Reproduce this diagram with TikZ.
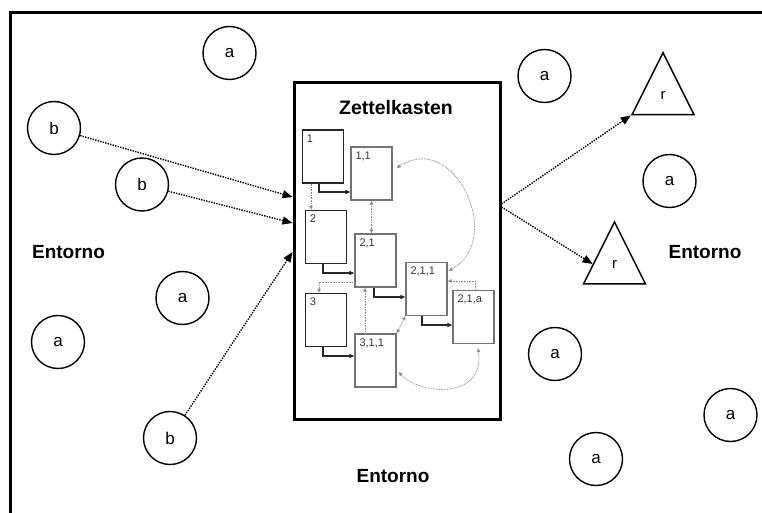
\documentclass[tikz,border=0pt]{standalone}
\usepackage{fontspec}
\setmainfont{Liberation Sans}
\usetikzlibrary{arrows.meta,shapes.geometric,calc}

\tikzset{
    elem/.style={circle, minimum size=53pt, inner sep=0pt, draw=black, line width=1.4pt, font=\fontsize{17}{20}\selectfont},
    res/.style={isosceles triangle, shape border rotate=90, isosceles triangle stretches, minimum width=62pt, minimum height=62pt, inner sep=0pt, draw=black, line width=1.5pt, font=\fontsize{15}{18}\selectfont},
    envlbl/.style={font=\bfseries\fontsize{19}{22}\selectfont},
    card/.style={rectangle, minimum width=41pt, minimum height=53pt, draw=black!85, line width=1.5pt},
    subcard/.style={card, draw=black!55, line width=1.3pt},
    cardlbl/.style={anchor=north west, inner sep=0pt, text=black!80, font=\fontsize{11}{13}\selectfont},
    flow/.style={line width=1.4pt, dash pattern=on 1.4pt off 1.2pt, -{Triangle[length=10pt,width=8pt]}},
    link/.style={draw=black!85, line width=1.1pt, -{Triangle[length=5pt,width=4pt]}},
    crossref/.style={draw=black!45, line width=0.8pt, dash pattern=on 0.8pt off 0.8pt, -{Triangle[length=4pt,width=3.5pt]}},
    twoway/.style={{Triangle[length=4pt,width=3.5pt]}-{Triangle[length=4pt,width=3.5pt]}}
}

\begin{document}
\begin{tikzpicture}[x=1pt,y=-1pt]
    \useasboundingbox (0,0) rectangle (762,513);
    \clip (0,0) rectangle (762,513);
    \draw[line width=3pt] (10.5,13) rectangle (790,540);

    \node[rectangle, minimum width=206pt, minimum height=336pt, draw=black, line width=3pt] (zk) at (397,251) {};
    \node[envlbl, font=\bfseries\fontsize{19.5}{22}\selectfont] (title) at (396,108) {Zettelkasten};

    \node[envlbl] (e1) at (68.5,252.5) {Entorno};
    \node[envlbl] (e2) at (705,252.5) {Entorno};
    \node[envlbl] (e3) at (393,476) {Entorno};

    \node[elem] (a1) at (229.5,53) {a};
    \node[elem] (a2) at (182.5,298) {a};
    \node[elem] (a3) at (58,342) {a};
    \node[elem] (a4) at (544.5,76) {a};
    \node[elem] (a5) at (669.5,181) {a};
    \node[elem] (a6) at (555,354) {a};
    \node[elem] (a7) at (730.5,415) {a};
    \node[elem] (a8) at (596,459) {a};

    \node[elem] (b1) at (54,128) {b};
    \node[elem] (b2) at (142,184.5) {b};
    \node[elem] (b3) at (170,438) {b};

    \node[res, anchor=apex] (r1) at (663,50.7) {r};
    \node[res, anchor=apex] (r2) at (614.5,220) {r};

    \draw[flow] (b1) -- ([yshift=54pt]zk.west);
    \draw[flow] (b2) -- ([yshift=28pt]zk.west);
    \draw[flow] (b3) -- ([yshift=-1pt]zk.west);
    \draw[flow] ([yshift=47pt]zk.east) -- (r1.left corner);
    \draw[flow] ([yshift=44pt]zk.east) -- ($(r2.apex)!0.68!(r2.left corner)$);

    \node[card] (c1) at (323,156.5) {};
    \node[subcard] (c11) at (371.5,173.5) {};
    \node[card] (c2) at (326,237) {};
    \node[subcard] (c21) at (375.5,260.5) {};
    \node[subcard] (c211) at (426.5,289) {};
    \node[card] (c3) at (326,320) {};
    \node[subcard] (c311) at (375.5,360.5) {};
    \node[subcard] (c21a) at (473.5,317) {};

    \node[cardlbl] (l1) at ([xshift=5pt,yshift=-5pt]c1.north west) {1};
    \node[cardlbl] (l11) at ([xshift=5pt,yshift=-5pt]c11.north west) {1,1};
    \node[cardlbl] (l2) at ([xshift=5pt,yshift=-5pt]c2.north west) {2};
    \node[cardlbl] (l21) at ([xshift=5pt,yshift=-5pt]c21.north west) {2,1};
    \node[cardlbl] (l211) at ([xshift=5pt,yshift=-5pt]c211.north west) {2,1,1};
    \node[cardlbl] (l3) at ([xshift=5pt,yshift=-5pt]c3.north west) {3};
    \node[cardlbl] (l311) at ([xshift=5pt,yshift=-5pt]c311.north west) {3,1,1};
    \node[cardlbl] (l21a) at ([xshift=5pt,yshift=-5pt]c21a.north west) {2,1,a};

    \draw[link] ([xshift=-4pt]c1.south) |- ([yshift=-18.5pt]c11.west);
    \draw[link] ([xshift=-3pt]c2.south) |- ([yshift=-12.5pt]c21.west);
    \draw[link] ([xshift=-1.5pt]c21.south) |- ([yshift=-8pt]c211.west);
    \draw[link] ([xshift=-3pt]c3.south) |- ([yshift=4.5pt]c311.west);
    \draw[link] ([xshift=-4.5pt]c211.south) |- ([yshift=-8pt]c21a.west);

    \draw[crossref] ([xshift=-12pt]c1.south) -- ([xshift=-15pt]c2.north);
    \draw[crossref, twoway] (c11.south) -- (c11.south |- c21.north);
    \draw[crossref] ([yshift=-21.5pt]c21.west) -| ([xshift=-7pt]c3.north);
    \draw[crossref] ([xshift=-10.5pt]c311.north) -- ([xshift=-10.5pt]c21.south);
    \draw[crossref, twoway] (c311.north east) -- (c211.south west);
    \draw[crossref, twoway] ([shift={(4,-5.5)}]c11.east) .. controls (455,130) and (505,240) .. ([shift={(1,9)}]c211.north east);
    \draw[crossref] ([xshift=1.5pt]c21a.north) |- ([yshift=8pt]c211.east);
    \draw[crossref, twoway] ([shift={(2,11.5)}]c311.east) .. controls (420,395) and (485,400) .. ([shift={(4.5,4)}]c21a.south);
\end{tikzpicture}
\end{document}
